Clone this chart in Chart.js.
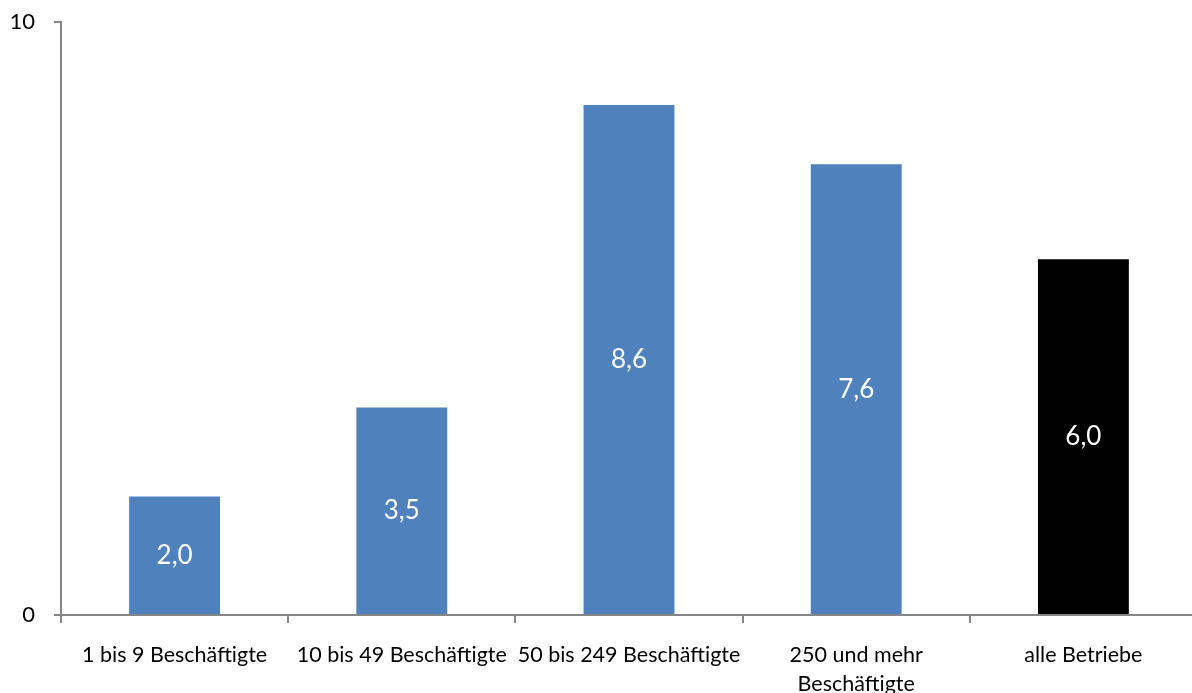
<!DOCTYPE html>
<html>
<head>
<meta charset="utf-8">
<script src="https://cdn.jsdelivr.net/npm/chart.js@4/dist/chart.umd.min.js"></script>
<style>
  html, body { margin: 0; padding: 0; background: #fff; overflow: hidden; }
  #wrap { width: 1198px; height: 693px; position: relative; }
</style>
</head>
<body>
<div id="wrap"><canvas id="c"></canvas></div>
<script>
// Betriebsgrößenklassen und Werte
const categories = [
  '1 bis 9 Beschäftigte',
  '10 bis 49 Beschäftigte',
  '50 bis 249 Beschäftigte',
  ['250 und mehr', 'Beschäftigte'],
  'alle Betriebe'
];
const values = [2.0, 3.5, 8.6, 7.6, 6.0];
const barColors = ['#4F81BD', '#4F81BD', '#4F81BD', '#4F81BD', '#000000'];
const yTicks = [0, 10];

const AXIS = '#868686';
const FONT = 'Lato, "Open Sans", sans-serif';

// Wertbeschriftung mittig im Balken
const valueLabels = {
  id: 'valueLabels',
  afterDatasetsDraw(chart) {
    const ctx = chart.ctx;
    const meta = chart.getDatasetMeta(0);
    ctx.save();
    ctx.fillStyle = '#ffffff';
    ctx.font = '26px ' + FONT;
    ctx.textAlign = 'center';
    ctx.textBaseline = 'middle';
    meta.data.forEach((bar, i) => {
      const y = (bar.y + bar.base) / 2;
      ctx.fillText(values[i].toFixed(1).replace('.', ','), bar.x, y);
    });
    ctx.restore();
  }
};

new Chart(document.getElementById('c'), {
  type: 'bar',
  data: {
    labels: categories,
    datasets: [{
      data: values,
      backgroundColor: barColors,
      borderWidth: 0,
      barPercentage: 0.4,
      categoryPercentage: 1.0
    }]
  },
  options: {
    responsive: true,
    maintainAspectRatio: false,
    animation: false,
    layout: { padding: { top: 22, left: 0, right: 1, bottom: 0 } },
    plugins: { legend: { display: false }, tooltip: { enabled: false } },
    scales: {
      x: {
        offset: true,
        border: { display: true, color: AXIS, width: 2 },
        grid: {
          display: true,
          offset: true,
          drawOnChartArea: false,
          drawTicks: true,
          tickLength: 8,
          color: AXIS,
          lineWidth: 2
        },
        ticks: {
          color: '#000',
          font: { family: FONT, size: 21.5, lineHeight: 1.35 },
          padding: 18,
          maxRotation: 0,
          autoSkip: false
        },
        afterFit(axis) { axis.height = 78; axis.paddingLeft = 0; axis.paddingRight = 0; }
      },
      y: {
        min: 0,
        max: 10,
        border: { display: true, color: AXIS, width: 2 },
        grid: {
          display: true,
          drawOnChartArea: false,
          drawTicks: true,
          tickLength: 7,
          color: AXIS,
          lineWidth: 2
        },
        afterBuildTicks(axis) { axis.ticks = yTicks.map(v => ({ value: v })); },
        ticks: {
          color: '#000',
          font: { family: FONT, size: 22 },
          padding: 19
        },
        afterFit(axis) { axis.width = 61; axis.paddingTop = 0; axis.paddingBottom = 0; }
      }
    }
  },
  plugins: [valueLabels]
});
</script>
</body>
</html>
